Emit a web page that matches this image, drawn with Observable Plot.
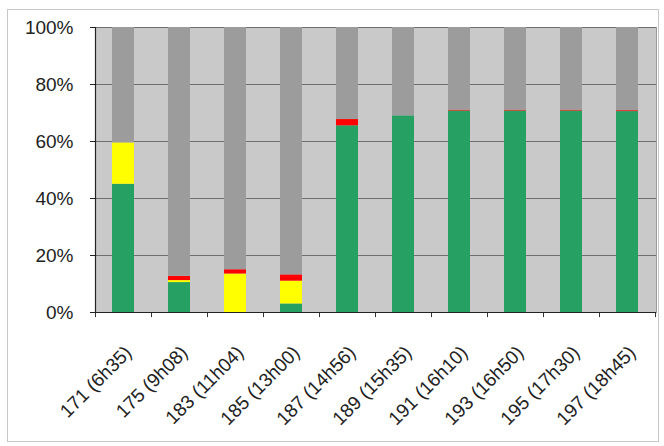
<!DOCTYPE html>
<html>
<head>
<meta charset="utf-8">
<script src="https://cdn.jsdelivr.net/npm/d3@7"></script>
<script src="https://cdn.jsdelivr.net/npm/@observablehq/plot@0.6"></script>
<style>
  html, body { margin: 0; padding: 0; background: #fff; }
  #wrap { position: relative; width: 664px; height: 446px; overflow: hidden; }
  #border { position: absolute; left: 7px; top: 9px; width: 652px; height: 433px; border: 1px solid #c8c8c8; box-sizing: border-box; }
  #chart { position: absolute; left: 0; top: 0; }
</style>
</head>
<body>
<div id="wrap"><div id="border"></div><div id="chart"></div></div>
<script>
const categories = ["171 (6h35)", "175 (9h08)", "183 (11h04)", "185 (13h00)", "187 (14h56)", "189 (15h35)", "191 (16h10)", "193 (16h50)", "195 (17h30)", "197 (18h45)"];
const okShare    = [45, 10.5, 0, 3, 65.5, 69, 70.7, 70.7, 70.7, 70.5];
const warnShare  = [14.5, 0.7, 13.5, 8, 0, 0, 0, 0, 0, 0];
const errShare   = [0, 1.5, 1.5, 2.2, 2.2, 0, 0.3, 0.3, 0.3, 0.3];
const restShare  = [40.5, 87.3, 85, 86.8, 32.3, 31, 29, 29, 29, 29.2];
const seriesNames = ["s_ok", "s_warn", "s_err", "s_rest"];
const seriesColors = ["#27a064", "#ffff00", "#ff0000", "#9c9c9c"];
const yTicks = [0, 20, 40, 60, 80, 100];

const seriesValues = [okShare, warnShare, errShare, restShare];
const rows = [];
categories.forEach((c, i) => {
  seriesNames.forEach((s, k) => rows.push({cat: c, series: s, value: seriesValues[k][i]}));
});

const chart = Plot.plot({
  width: 664,
  height: 446,
  marginLeft: 95,
  marginRight: 8,
  marginTop: 27,
  marginBottom: 134,
  style: {fontFamily: "Liberation Sans, Arial, sans-serif", background: "transparent", overflow: "visible"},
  x: {domain: categories, paddingInner: 0.6, paddingOuter: 0.3, label: null},
  y: {domain: [0, 100], label: null},
  color: {domain: seriesNames, range: seriesColors},
  marks: [
    Plot.frame({fill: "#c9c9c9", stroke: "#9a9a9a"}),
    Plot.gridY(yTicks, {stroke: "#6e6e6e", strokeOpacity: 1, strokeWidth: 1}),
    Plot.barY(rows, {x: "cat", y: "value", fill: "series", order: seriesNames}),
    Plot.ruleX(categories, {x: d => d, dx: 28, y1: 0, y2: -1.8, stroke: "#333"}),
    Plot.ruleX(categories.slice(0, 1), {x: d => d, dx: -28, y1: 0, y2: -1.8, stroke: "#333"}),
    Plot.ruleY([0], {stroke: "#222", strokeWidth: 1.2}),
    Plot.ruleX([categories[0]], {x: d => d, dx: -28, y1: 0, y2: 100, stroke: "#222", strokeWidth: 1.2}),
    Plot.axisY({ticks: yTicks, tickFormat: d => d + "%", tickSize: 5, tickPadding: 17, fontSize: 19, fill: "#222", stroke: "#222"}),
    Plot.axisX({tickSize: 0, tickRotate: -45, tickPadding: 37, dx: 5, fontSize: 19, fill: "#222"})
  ]
});
document.getElementById("chart").appendChild(chart);
</script>
</body>
</html>
